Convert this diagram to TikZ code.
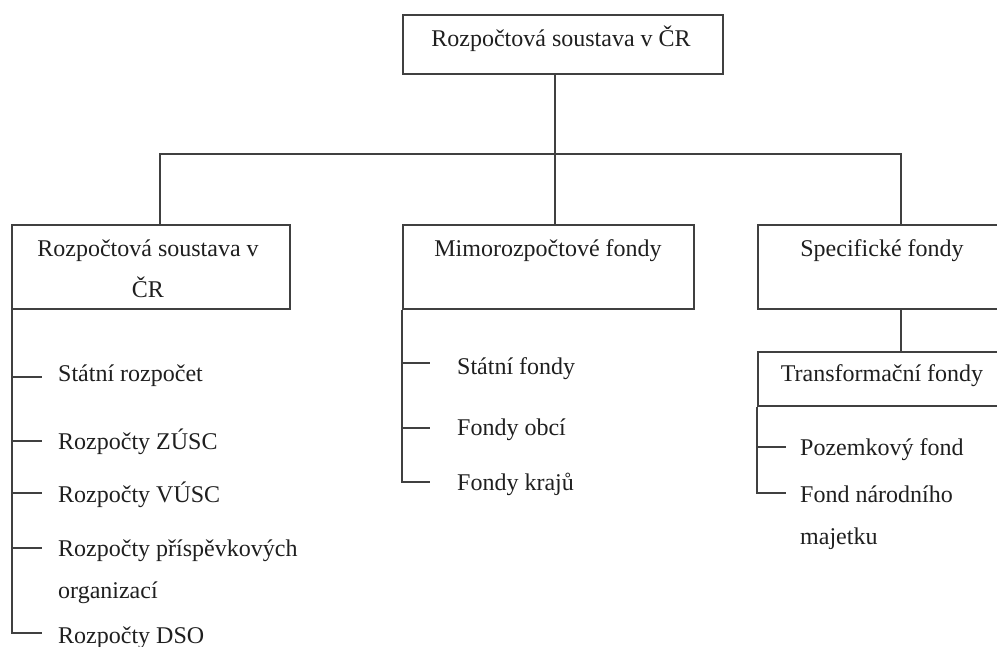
\documentclass[tikz,border=0pt]{standalone}
\usepackage{fontspec}
\setmainfont{Liberation Serif}
\begin{document}
\begin{tikzpicture}[x=1pt,y=-1pt,
  box/.style={draw=black!75, line width=1.6pt, rectangle, inner sep=0pt, anchor=north west},
  txt/.style={font=\fontsize{24}{41.5}\selectfont, text=black!88, inner sep=0pt},
  conn/.style={draw=black!75, line width=1.6pt}]
\useasboundingbox[fill=white] (0,0) rectangle (997,646);

% boxes
\node[box, minimum width=320pt, minimum height=59pt] (topbox) at (402,14) {};
\node[box, minimum width=278pt, minimum height=84pt] (lbox) at (11,224) {};
\node[box, minimum width=291pt, minimum height=84pt] (mbox) at (402,224) {};
\node[box, minimum width=250pt, minimum height=84pt] (rbox) at (757,224) {};
\node[box, minimum width=250pt, minimum height=54pt] (tbox) at (757,351) {};

% box texts
\node[txt, anchor=base] (toptxt) at (561,46.5) {Rozpočtová soustava v ČR};
\node[txt, anchor=base, align=center] (ltxt) at (148,297.5) {Rozpočtová soustava v\\ČR};
\node[txt, anchor=base] (mtxt) at (548,256.5) {Mimorozpočtové fondy};
\node[txt, anchor=base] (rtxt) at (882,256.5) {Specifické fondy};
\node[txt, anchor=base] (ttxt) at (882,381.5) {Transformační fondy};

% tree connectors
\coordinate (hub) at (555,154);
\coordinate (hl) at (160,154);
\coordinate (hr) at (901,154);
\draw[conn] (topbox.south -| hub) -- (hub);
\draw[conn] (lbox.north -| hl) -- (hl) -- (hr) -- (rbox.north -| hr);
\draw[conn] (hub) -- (mbox.north -| hub);
\draw[conn] (rbox.south -| hr) -- (tbox.north -| hr);

% left list
\coordinate (l1) at (42,377);
\coordinate (l2) at (42,441);
\coordinate (l3) at (42,493);
\coordinate (l4) at (42,548);
\coordinate (l5) at (42,633);
\draw[conn] ([xshift=1pt]lbox.south west) |- (l5);
\foreach \c in {l1,l2,l3,l4} \draw[conn] (\c -| lbox.south west) -- (\c);
\node[txt, anchor=base west] (li1) at (58,381.5) {Státní rozpočet};
\node[txt, anchor=base west] (li2) at (58,449) {Rozpočty ZÚSC};
\node[txt, anchor=base west] (li3) at (58,502.5) {Rozpočty VÚSC};
\node[txt, anchor=base west, align=left] (li4) at (58,598) {Rozpočty příspěvkových\\organizací};
\node[txt, anchor=base west] (li5) at (58,643) {Rozpočty DSO};

% middle list
\coordinate (m1) at (430,363);
\coordinate (m2) at (430,428);
\coordinate (m3) at (430,482);
\draw[conn] (mbox.south west) |- (m3);
\foreach \c in {m1,m2} \draw[conn] (\c -| mbox.south west) -- (\c);
\node[txt, anchor=base west] (mi1) at (457,374) {Státní fondy};
\node[txt, anchor=base west] (mi2) at (457,435) {Fondy obcí};
\node[txt, anchor=base west] (mi3) at (457,490) {Fondy krajů};

% right list
\coordinate (r1) at (786,447);
\coordinate (r2) at (786,493);
\draw[conn] (tbox.south west) |- (r2);
\draw[conn] (r1 -| tbox.south west) -- (r1);
\node[txt, anchor=base west] (ri1) at (800,455) {Pozemkový fond};
\node[txt, anchor=base west, align=left] (ri2) at (800,544) {Fond národního\\majetku};
\end{tikzpicture}
\end{document}
